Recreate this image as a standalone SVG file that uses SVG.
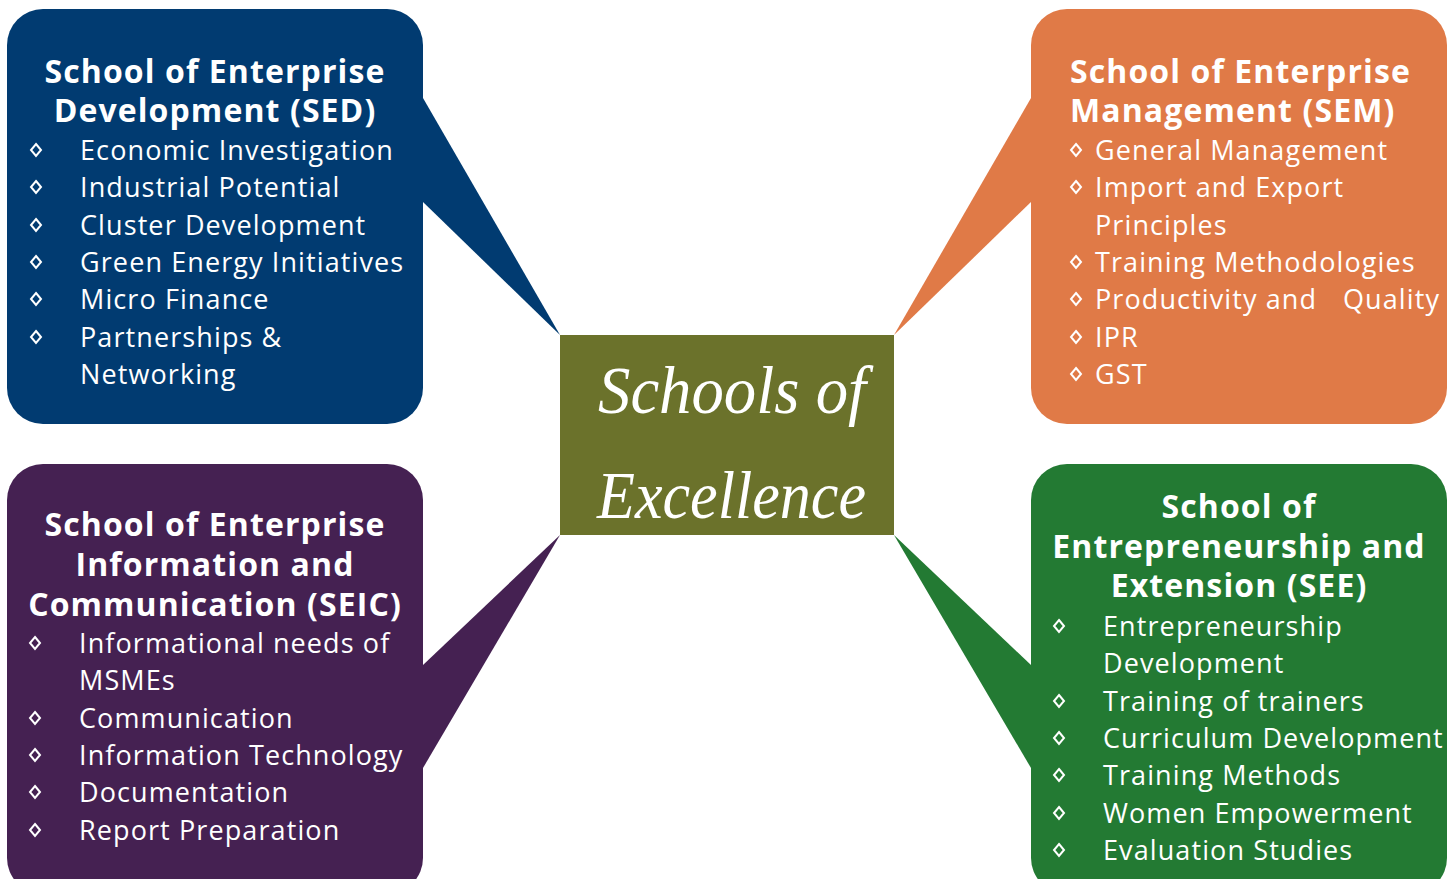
<svg xmlns="http://www.w3.org/2000/svg" width="1455" height="879" viewBox="0 0 1455 879">
<style>
.t{font-family:"Open Sans","Liberation Sans",sans-serif;font-weight:700;font-size:32px;letter-spacing:1.1px;fill:#fff}
.i{font-family:"Open Sans","Liberation Sans",sans-serif;font-weight:400;font-size:27px;letter-spacing:1.1px;fill:#fff}
.c{font-family:"Liberation Serif","DejaVu Serif",serif;font-style:italic;font-size:68px;fill:#fff}
.b{fill:none;stroke:#fff;stroke-width:2}
</style>
<defs>
<path id="d" d="M0,-6 L5,0 L0,6 L-5,0 Z"/>
</defs>
<rect width="1455" height="879" fill="#fff"/>
<g id="connectors">
<polygon points="423,98 560,335 423,202" fill="#013B71"/>
<polygon points="1031,98 894,335 1031,202" fill="#E07A47"/>
<polygon points="423,665 560,535 423,768" fill="#452152"/>
<polygon points="1031,665 894,535 1031,768" fill="#237A33"/>
</g>
<g id="sed">
<rect x="7" y="9" width="416" height="415" rx="36" fill="#013B71"/>
<text class="t" text-anchor="middle" x="215" y="83">School of Enterprise</text>
<text class="t" text-anchor="middle" x="215" y="122">Development (SED)</text>
<g class="b"><use href="#d" x="36" y="150"/><use href="#d" x="36" y="187"/><use href="#d" x="36" y="225"/><use href="#d" x="36" y="262"/><use href="#d" x="36" y="299"/><use href="#d" x="36" y="337"/></g>
<text class="i" x="80" y="160">Economic Investigation</text>
<text class="i" x="80" y="197">Industrial Potential</text>
<text class="i" x="80" y="235">Cluster Development</text>
<text class="i" x="80" y="272">Green Energy Initiatives</text>
<text class="i" x="80" y="309">Micro Finance</text>
<text class="i" x="80" y="347">Partnerships &amp;</text>
<text class="i" x="80" y="384">Networking</text>
</g>
<g id="sem">
<rect x="1031" y="9" width="416" height="415" rx="36" fill="#E07A47"/>
<text class="t" x="1070" y="83">School of Enterprise</text>
<text class="t" x="1070" y="122">Management (SEM)</text>
<g class="b"><use href="#d" x="1076" y="150"/><use href="#d" x="1076" y="187"/><use href="#d" x="1076" y="262"/><use href="#d" x="1076" y="299"/><use href="#d" x="1076" y="337"/><use href="#d" x="1076" y="374"/></g>
<text class="i" x="1095" y="160">General Management</text>
<text class="i" x="1095" y="197">Import and Export</text>
<text class="i" x="1095" y="235">Principles</text>
<text class="i" x="1095" y="272">Training Methodologies</text>
<text class="i" x="1095" y="309">Productivity and<tspan x="1343">Quality</tspan></text>
<text class="i" x="1095" y="347">IPR</text>
<text class="i" x="1095" y="384">GST</text>
</g>
<g id="seic">
<rect x="7" y="464" width="416" height="430" rx="36" fill="#452152"/>
<text class="t" text-anchor="middle" x="215" y="536">School of Enterprise</text>
<text class="t" text-anchor="middle" x="215" y="576">Information and</text>
<text class="t" text-anchor="middle" x="215" y="616">Communication (SEIC)</text>
<g class="b"><use href="#d" x="35" y="643"/><use href="#d" x="35" y="718"/><use href="#d" x="35" y="755"/><use href="#d" x="35" y="792"/><use href="#d" x="35" y="830"/></g>
<text class="i" x="79" y="653">Informational needs of</text>
<text class="i" x="79" y="690">MSMEs</text>
<text class="i" x="79" y="728">Communication</text>
<text class="i" x="79" y="765">Information Technology</text>
<text class="i" x="79" y="802">Documentation</text>
<text class="i" x="79" y="840">Report Preparation</text>
</g>
<g id="see">
<rect x="1031" y="464" width="416" height="430" rx="36" fill="#237A33"/>
<text class="t" text-anchor="middle" x="1239" y="518">School of</text>
<text class="t" text-anchor="middle" x="1239" y="558">Entrepreneurship and</text>
<text class="t" text-anchor="middle" x="1239" y="597">Extension (SEE)</text>
<g class="b"><use href="#d" x="1059" y="626"/><use href="#d" x="1059" y="701"/><use href="#d" x="1059" y="738"/><use href="#d" x="1059" y="775"/><use href="#d" x="1059" y="813"/><use href="#d" x="1059" y="850"/></g>
<text class="i" x="1103" y="636">Entrepreneurship</text>
<text class="i" x="1103" y="673">Development</text>
<text class="i" x="1103" y="711">Training of trainers</text>
<text class="i" x="1103" y="748">Curriculum Development</text>
<text class="i" x="1103" y="785">Training Methods</text>
<text class="i" x="1103" y="823">Women Empowerment</text>
<text class="i" x="1103" y="860">Evaluation Studies</text>
</g>
<g id="center">
<rect x="560" y="335" width="334" height="200" fill="#6B722B"/>
<text class="c" x="598" y="413" textLength="268" lengthAdjust="spacingAndGlyphs">Schools of</text>
<text class="c" x="597" y="518" textLength="269" lengthAdjust="spacingAndGlyphs">Excellence</text>
</g>
</svg>
